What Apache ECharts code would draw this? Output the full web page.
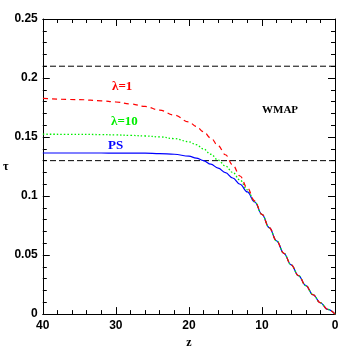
<!DOCTYPE html>
<html>
<head>
<meta charset="utf-8">
<script src="https://cdn.jsdelivr.net/npm/echarts@6/dist/echarts.min.js"></script>
<style>html,body{margin:0;padding:0;background:#fff;}#c{width:354px;height:354px;}</style>
</head>
<body>
<div id="c"></div>
<script>
// redshift grid
const zValues = [0,1,2,3,4,5,6,7,8,9,10,11,12,13,14,15,16,17,18,19,20,22,24,26,28,30,32,35,40];
// optical depth tau(z)
const tauLambda1  = [0,0.0040,0.0096,0.0164,0.0242,0.0326,0.0417,0.0515,0.0621,0.0732,0.0845,0.0960,0.1068,0.1170,0.1263,0.1350,0.1427,0.1492,0.1545,0.1590,0.1628,0.1686,0.1728,0.1759,0.1781,0.1797,0.1807,0.1817,0.1827];
const tauLambda10 = [0,0.0040,0.0096,0.0164,0.0242,0.0326,0.0417,0.0515,0.0621,0.0732,0.0845,0.0955,0.1052,0.1135,0.1200,0.1255,0.1305,0.1354,0.1399,0.1435,0.1460,0.1487,0.1501,0.1509,0.1514,0.1518,0.1521,0.1523,0.1524];
const tauPS       = [0,0.0040,0.0096,0.0164,0.0242,0.0326,0.0417,0.0515,0.0621,0.0732,0.0845,0.0950,0.1035,0.1100,0.1153,0.1198,0.1237,0.1270,0.1300,0.1322,0.1338,0.1354,0.1360,0.1363,0.1364,0.1364,0.1365,0.1365,0.1365];
// WMAP bounds
const wmapBounds = [0.13, 0.21];
const xTickLabels = ['0','10','20','30','40'];
const yTickLabels = ['0','0.05','0.1','0.15','0.2','0.25'];

const pair = arr => zValues.map((z,i)=>[z,arr[i]]);
const chart = echarts.init(document.getElementById('c'), null, {renderer:'canvas'});
const axisFont = {fontFamily:'Liberation Sans', fontSize:12, fontWeight:'bold', color:'#000'};
const lineCol = '#000';
const baseX = {
  type:'value', min:0, max:40, interval:10, inverse:true,
  axisLine:{show:true, onZero:false, lineStyle:{color:lineCol, width:1}},
  axisTick:{show:true, inside:true, length:7, lineStyle:{color:lineCol}},
  minorTick:{show:true, splitNumber:5, length:4, lineStyle:{color:lineCol}},
  splitLine:{show:false}
};
const baseY = {
  type:'value', min:0, max:0.25, interval:0.05,
  axisLine:{show:true, onZero:false, lineStyle:{color:lineCol, width:1}},
  axisTick:{show:true, inside:true, length:7, lineStyle:{color:lineCol}},
  minorTick:{show:true, splitNumber:5, length:4, lineStyle:{color:lineCol}},
  splitLine:{show:false}
};
const hline = (v) => ({
  type:'line', xAxisIndex:0, yAxisIndex:0, data:[[0,v],[40,v]], symbol:'none', silent:true,
  lineStyle:{color:'#000', width:1, type:[6,3]}
});
const curve = (name, arr, style) => ({
  type:'line', name:name, data:pair(arr), symbol:'none', smooth:0.4, smoothMonotone:'x', lineStyle:style
});
chart.setOption({
  animation:false,
  grid:{left:38, right:19, top:19, bottom:38},
  xAxis:[
    Object.assign({}, baseX, {position:'bottom',
      name:'z', nameLocation:'middle', nameGap:13,
      nameTextStyle:{fontFamily:'Liberation Serif', fontSize:12, fontWeight:'bold', color:'#000'},
      axisLabel:Object.assign({margin:6, formatter:v=>xTickLabels[xTickLabels.indexOf(String(v))]}, axisFont)}),
    Object.assign({}, baseX, {position:'top', axisLabel:{show:false}})
  ],
  yAxis:[
    Object.assign({}, baseY, {position:'left',
      name:'τ', nameLocation:'middle', nameGap:31, nameRotate:0,
      nameTextStyle:{fontFamily:'Liberation Serif', fontSize:12, fontWeight:'bold', color:'#000', padding:[0,0,0,0]},
      axisLabel:Object.assign({margin:5, formatter:v=>{const s=String(+v.toFixed(2)); return yTickLabels.includes(s)?s:'';}}, axisFont)}),
    Object.assign({}, baseY, {position:'right', axisLabel:{show:false}})
  ],
  series:[
    hline(wmapBounds[1]),
    hline(wmapBounds[0]),
    curve('PS', tauPS, {color:'#0000ff', width:1.2}),
    curve('λ=10', tauLambda10, {color:'#00ee00', width:1.3, type:[1.5,2]}),
    curve('λ=1', tauLambda1, {color:'#ff0000', width:1.2, type:[5,4]})
  ],
  graphic:[
    {type:'text', left:112, top:80, style:{text:'λ=1', fill:'#ff0000', font:'bold 13px "Liberation Serif"'}},
    {type:'text', left:111, top:115, style:{text:'λ=10', fill:'#00ee00', font:'bold 13px "Liberation Serif"'}},
    {type:'text', left:108, top:139, style:{text:'PS', fill:'#0000ff', font:'bold 13px "Liberation Serif"'}},
    {type:'text', left:262, top:105, style:{text:'WMAP', fill:'#000', font:'bold 11px "Liberation Serif"'}}
  ]
});
</script>
</body>
</html>
